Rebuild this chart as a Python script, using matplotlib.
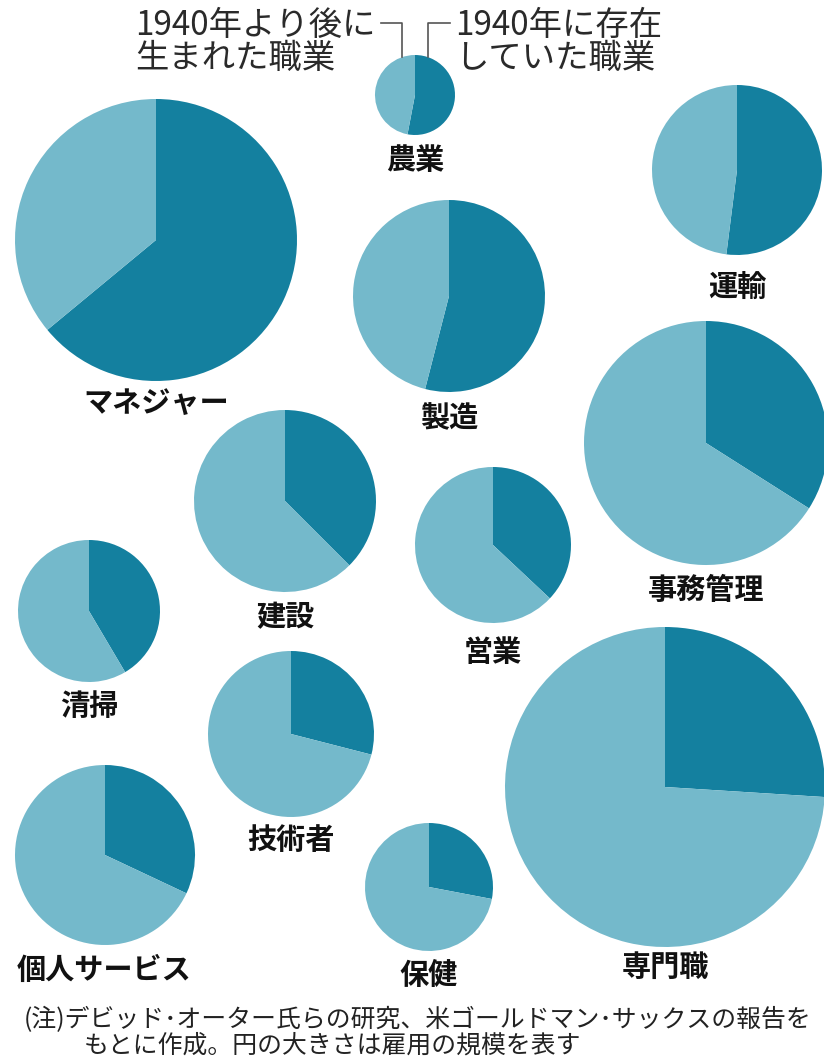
import matplotlib

matplotlib.use("Agg")
import matplotlib.pyplot as plt  # noqa: E402

plt.rcParams["font.family"] = ["Noto Sans CJK JP", "DejaVu Sans"]

W, H = 824, 1063

# 職業ごとの「1940年に存在していた職業」の比率と円の大きさ(雇用規模)
occupations = [
    "農業", "マネジャー", "運輸", "製造", "事務管理", "建設",
    "営業", "清掃", "技術者", "個人サービス", "保健", "専門職",
]
existed_1940 = [0.53, 0.64, 0.52, 0.54, 0.34, 0.375, 0.37, 0.415, 0.29, 0.32, 0.28, 0.26]
radius = [40, 141, 85, 96, 122, 91, 78, 71, 83, 90, 64, 160]

# 円の中心とラベルの位置(上からのピクセル座標)
centers = [
    (415, 95), (156, 240), (737, 170), (449, 296), (706, 443), (285, 501),
    (493, 545), (89, 611), (291, 734), (105, 855), (429, 887), (665, 787),
]
label_pos = [
    (415, 160), (156, 403), (737, 287), (449, 418), (706, 590), (285, 617),
    (493, 652), (89, 706), (291, 840), (104, 970), (429, 975), (665, 967),
]

legend_new = ["1940年より後に", "生まれた職業"]
legend_old = ["1940年に存在", "していた職業"]
note_lines = [
    "(注)デビッド･オーター氏らの研究、米ゴールドマン･サックスの報告を",
    "もとに作成。円の大きさは雇用の規模を表す",
]

DARK = "#14809f"
LIGHT = "#74b9cb"


def flip(y):
    return H - y


fig = plt.figure(figsize=(W / 100, H / 100), dpi=100)
ax = fig.add_axes([0, 0, 1, 1])

for name, share, r, (cx, cy), (lx, ly) in zip(
    occupations, existed_1940, radius, centers, label_pos
):
    ax.pie(
        [share, 1 - share],
        colors=[DARK, LIGHT],
        startangle=90,
        counterclock=False,
        center=(cx, flip(cy)),
        radius=r,
        wedgeprops={"linewidth": 0},
    )
    ax.text(lx, flip(ly), name, ha="center", va="center",
            fontsize=21, fontweight="bold", color="#111111")

# 凡例
for i, (a, b) in enumerate(zip(legend_new, legend_old)):
    base = flip(35 + 33 * i)
    ax.text(135, base, a, ha="left", va="baseline", fontsize=24, color="#2a2a2a")
    ax.text(455, base, b, ha="left", va="baseline", fontsize=24, color="#2a2a2a")
ax.plot([381, 402, 402], [flip(23), flip(23), flip(57)], color="#555555", lw=1.2)
ax.plot([450, 428, 428], [flip(23), flip(23), flip(57)], color="#555555", lw=1.2)

# 注記
ax.text(24, flip(1020), note_lines[0], ha="left", va="center",
        fontsize=17.9, color="#222222")
ax.text(84, flip(1046), note_lines[1], ha="left", va="center",
        fontsize=17.9, color="#222222")

ax.set_xlim(0, W)
ax.set_ylim(0, H)
ax.set_aspect("auto")
ax.axis("off")

fig.savefig("out.png", dpi=100, facecolor="white")
plt.close(fig)
